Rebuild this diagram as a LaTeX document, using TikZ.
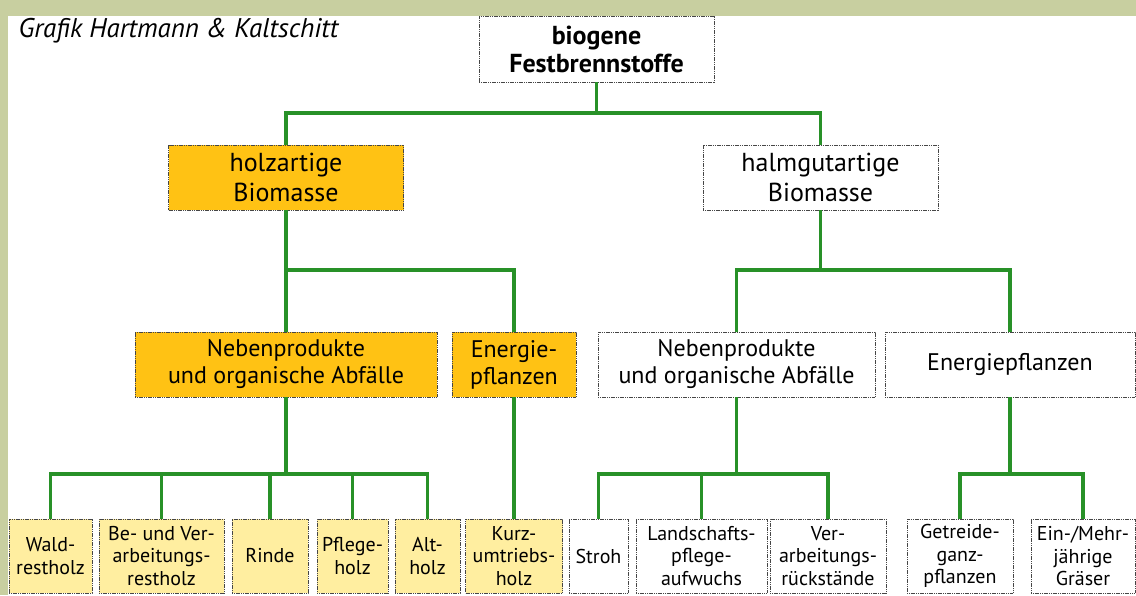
\documentclass[tikz,border=0pt]{standalone}
\usepackage{fontspec}
\setmainfont{PT Sans}
\usetikzlibrary{positioning}
\definecolor{frame}{RGB}{200,207,160}
\definecolor{twig}{RGB}{40,145,40}
\definecolor{wood}{RGB}{255,194,20}
\definecolor{woodlight}{RGB}{255,238,160}
\definecolor{rim}{RGB}{70,70,70}
\begin{document}
\begin{tikzpicture}[x=1pt,y=-1pt,
  box/.style={draw=rim,line width=0.8pt,dash pattern=on 1.2pt off 0.6pt,fill=white,align=center,inner sep=0pt},
  woodbox/.style={box,fill=wood},
  leafbox/.style={box,fill=woodlight},
  link/.style={draw=twig,line width=3.2pt},
  big/.style={font=\fontsize{26}{30}\selectfont},
  mid/.style={font=\fontsize{24}{27}\selectfont},
  small/.style={font=\fontsize{20}{22.5}\selectfont}]
\useasboundingbox (0,0) rectangle (1136,595);
\fill[frame] (0,0) rectangle (1136,595);
\fill[white] (8,16) rectangle (1136,595);
\node[anchor=base west,font=\itshape\fontsize{27}{30}\selectfont] (credit) at (15,37) {Grafik Hartmann \& Kaltschitt};

\coordinate (bus1) at (0,113);
\coordinate (bus2) at (0,270);
\coordinate (bus3) at (0,474);

\node[box,font=\bfseries\fontsize{26}{28}\selectfont,minimum width=235,minimum height=66] (top) at (596.5,49) {biogene\\Festbrennstoffe};

\node[woodbox,big,minimum width=235,minimum height=65] (holz) at (286,177.5) {holzartige\\Biomasse};
\node[box,big,minimum width=235,minimum height=65] (halm) at (820.5,177.5) {halmgutartige\\Biomasse};

\node[woodbox,mid,minimum width=302,minimum height=65] (nebL) at (286,364.5) {Nebenprodukte\\und organische Abfälle};
\node[woodbox,mid,minimum width=124,minimum height=65] (enL) at (514,364.5) {Energie-\\pflanzen};
\node[box,mid,minimum width=277,minimum height=65] (nebR) at (736.5,364.5) {Nebenprodukte\\und organische Abfälle};
\node[box,mid,minimum width=250,minimum height=65] (enR) at (1010,364.5) {Energiepflanzen};

\foreach \cx/\w/\txt [count=\n] in {50.5/83/{Wald-\\restholz},161.5/125/{Be- und Ver-\\arbeitungs-\\restholz},270/76/{Rinde},352.5/71/{Pflege-\\holz},427.5/65/{Alt-\\holz},514/97/{Kurz-\\umtriebs-\\holz}}
  \node[leafbox,small,minimum width=\w,minimum height=74] (B\n) at (\cx,556) {\txt};

\foreach \cx/\w/\txt [count=\n from 7] in {598.5/59/{Stroh},701.5/131/{Landschafts-\\pflege-\\aufwuchs},828/116/{Ver-\\arbeitungs-\\rückstände},960/106/{Getreide-\\ganz-\\pflanzen},1083/104/{Ein-/Mehr-\\jährige\\Gräser}}
  \node[box,small,minimum width=\w,minimum height=74] (B\n) at (\cx,556) {\txt};

\draw[link] (top.south) -- (top.south|-bus1);
\draw[link] (holz.north) -- (holz.north|-bus1) -- (halm.north|-bus1) -- (halm.north);

\draw[link] (holz.south) -- (holz.south|-bus2) -- (enL.north|-bus2) -- (enL.north);
\draw[link] (nebL.north) -- (nebL.north|-bus2);
\draw[link] (halm.south) -- (halm.south|-bus2);
\draw[link] (nebR.north) -- (nebR.north|-bus2) -- (enR.north|-bus2) -- (enR.north);

\draw[link] (nebL.south) -- (nebL.south|-bus3);
\draw[link] (B1.north) -- (B1.north|-bus3) -- (B5.north|-bus3) -- (B5.north);
\foreach \n in {2,3,4}
  \draw[link] (B\n.north) -- (B\n.north|-bus3);
\draw[link] (enL.south) -- (B6.north);

\draw[link] (nebR.south) -- (nebR.south|-bus3);
\draw[link] (B7.north) -- (B7.north|-bus3) -- (B9.north|-bus3) -- (B9.north);
\draw[link] (B8.north) -- (B8.north|-bus3);
\draw[link] (enR.south) -- (enR.south|-bus3);
\draw[link] (B10.north) -- (B10.north|-bus3) -- (B11.north|-bus3) -- (B11.north);
\end{tikzpicture}
\end{document}
